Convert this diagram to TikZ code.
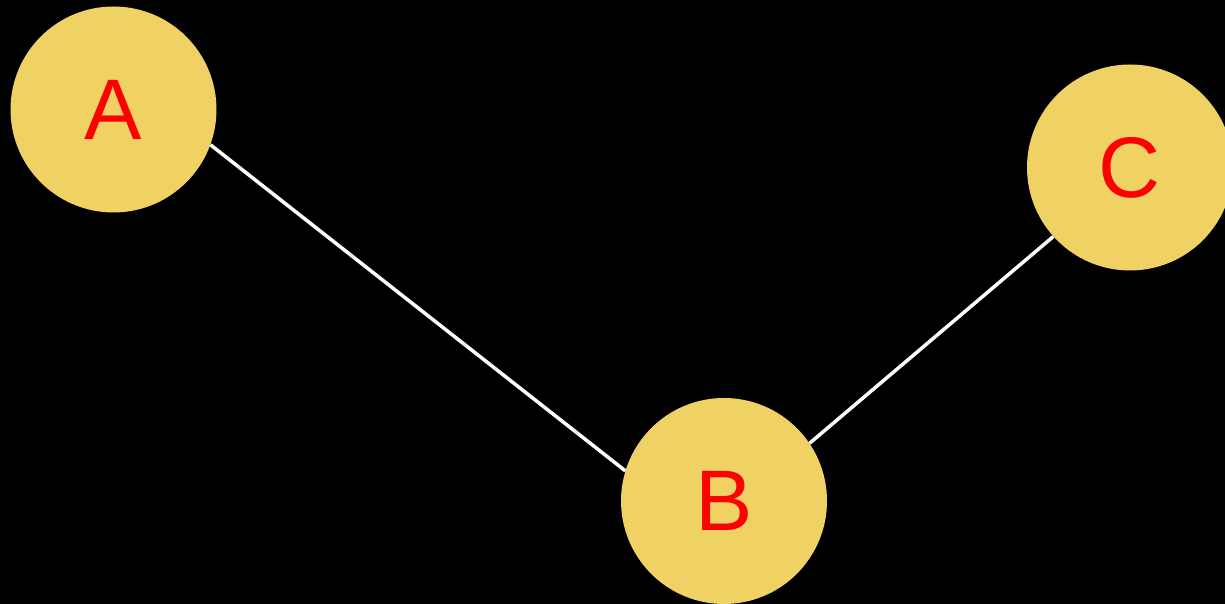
\documentclass[tikz,border=0pt]{standalone}
\usepackage{fontspec}
\setmainfont{Liberation Sans}
\definecolor{disc}{RGB}{240,210,100}
\definecolor{lbl}{RGB}{255,0,0}
\begin{document}
\begin{tikzpicture}[x=1pt,y=1pt,
  vertex/.style={circle,fill=disc,draw=none,minimum size=206pt,inner sep=0pt,
    text=lbl,font=\fontsize{86}{86}\selectfont},
  link/.style={draw=white,line width=3.5pt}]
\fill[black] (0,0) rectangle (1225,604);
\useasboundingbox (0,0) rectangle (1225,604);
\node[vertex] (A) at (113.5,494.5) {A};
\node[vertex] (B) at (724,103) {B};
\node[vertex] (C) at (1130,436.5) {C};
\draw[link] (A.-20.7) -- (B.163.7);
\draw[link] (B.34) -- (C.222.6);
\end{tikzpicture}
\end{document}
